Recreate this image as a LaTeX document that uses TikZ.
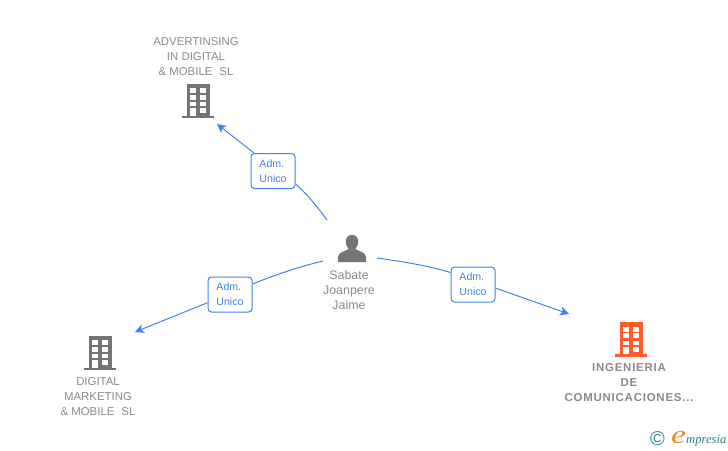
\documentclass[tikz,border=0pt]{standalone}
\usepackage{fontspec}
\setmainfont{Liberation Sans}
\newfontfamily\logofont{Liberation Serif}
\newfontfamily\spacedfont[LetterSpace=6.5]{Liberation Sans}
\usepackage{color}
\usetikzlibrary{arrows.meta}
\definecolor{linkblue}{HTML}{3F84E5}
\definecolor{icongrey}{HTML}{757575}
\definecolor{textgrey}{HTML}{8A8A8A}
\definecolor{mainorange}{HTML}{FF5C2E}
\definecolor{logoteal}{HTML}{2F7F8F}
\definecolor{logoorange}{HTML}{F08A1D}
\tikzset{% change default arrow tips
    >=latex,
    link/.style={draw=linkblue,line width=1pt},
    linkarrow/.style={link,->,>={Stealth[length=9pt,width=9pt,inset=2.5pt]}},
    role/.style={draw=linkblue,line width=1pt,fill=white,rounded corners=3.5pt,minimum width=44pt,minimum height=35pt,inner sep=0pt,align=left,text=linkblue,font=\fontsize{10.6}{15}\selectfont},
    company/.style={align=center,text=textgrey,font=\fontsize{11.4}{15}\selectfont,inner sep=0pt},
    person/.style={company,font=\fontsize{12.4}{15}\selectfont}
}
\newcommand{\building}[3]{% centre x, top y, colour
    \fill[#3] (#1-15.8,#2+31.6) rectangle (#1+16,#2+34.2);
    \fill[#3] (#1-11,#2) rectangle (#1+11.5,#2+32);
    \foreach \col in {-7.7,2.3}{
        \fill[white] (#1+\col,#2+4.3) rectangle (#1+\col+5.4,#2+9.3);
        \fill[white] (#1+\col,#2+11) rectangle (#1+\col+5.4,#2+16);
        \fill[white] (#1+\col,#2+18.3) rectangle (#1+\col+5.4,#2+22.3);
    }
    \fill[white] (#1-7.7,#2+24.3) rectangle (#1-2.3,#2+31.7);
    \fill[white] (#1+2.3,#2+24.3) rectangle (#1+7.7,#2+29.3);
}
\begin{document}
\begin{tikzpicture}[x=1pt,y=-1pt]
    \useasboundingbox (0,0) rectangle (728,450);

    % icons
    \building{198}{84}{icongrey}
    \building{100}{336}{icongrey}
    \building{631}{322.3}{mainorange}
    \fill[icongrey] (338,262) -- (338,257) .. controls (338.5,252) and (344,252) .. (348.5,249)
        .. controls (344,244) and (344.5,235) .. (352,235) .. controls (359.5,235) and (360,244) .. (355.5,249)
        .. controls (360,252) and (365.5,252) .. (366,257) -- (366,262) -- cycle;

    % labels
    \node[company] (advertising) at (196,56.5) {ADVERTINSING\\IN DIGITAL\\\& MOBILE\, \,SL};
    \node[company] (digital) at (98,397) {DIGITAL\\MARKETING\\\& MOBILE\, \,SL};
    \node[company,font=\fontsize{11.5}{15}\spacedfont\bfseries] (ingenieria) at (629,383) {INGENIERIA\\DE\\COMUNICACIONES...};
    \node[person] (sabate) at (349,290.5) {Sabate\\Joanpere\\Jaime};

    % roles
    \node[role] (roleadvertising) at (273,171) {Adm.\\Unico};
    \node[role] (roledigital) at (230,294.5) {Adm.\\Unico};
    \node[role] (roleingenieria) at (473,284.5) {Adm.\\Unico};

    % free ends
    \coordinate (startadvertising) at (327,220);
    \coordinate (startdigital) at (323,261);
    \coordinate (startingenieria) at (377,258);
    \coordinate (endadvertising) at (217,124);
    \coordinate (enddigital) at (135,332);
    \coordinate (endingenieria) at (569,314);

    % links
    \draw[link] (startadvertising) .. controls (316,205) and (306,193) .. (roleadvertising.-30);
    \draw[linkarrow] (roleadvertising.north west) ++(3.5,0) -- (endadvertising);
    \draw[link] (startdigital) .. controls (298,267) and (275,275) .. (roledigital.25);
    \draw[linkarrow] (roledigital.200) -- (enddigital);
    \draw[link] (startingenieria) .. controls (405,262) and (430,266) .. (roleingenieria.152);
    \draw[linkarrow] (roleingenieria.-9) -- (endingenieria);

    % logo
    \node[inner sep=0pt,text=logoteal,font=\fontsize{20}{20}\selectfont] (copyrightsign) at (657.5,439) {©};
    \node[inner sep=0pt,anchor=base west,font=\logofont\itshape\fontsize{12.6}{12.6}\selectfont,text=logoteal] (logo) at (671,443) {{\color{logoorange}\fontsize{26}{26}\selectfont\scalebox{1.3}[1]{e}}mpresia};
\end{tikzpicture}
\end{document}
